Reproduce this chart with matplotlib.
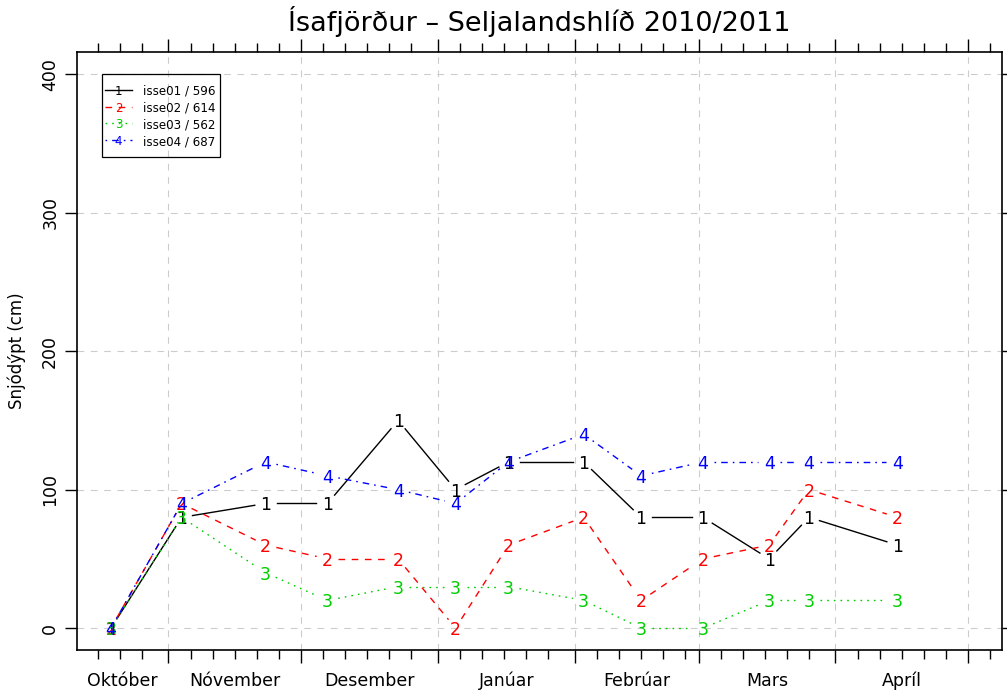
import numpy as np
import matplotlib
matplotlib.use("Agg")
import matplotlib.pyplot as plt
import matplotlib.dates as mdates
import matplotlib.transforms as mtransforms
from matplotlib.lines import Line2D
from matplotlib.patches import Rectangle

# measurement dates (same for all four stakes)
dates = np.array(["2010-10-19", "2010-11-04", "2010-11-23", "2010-12-07",
                  "2010-12-23", "2011-01-05", "2011-01-17", "2011-02-03",
                  "2011-02-16", "2011-03-02", "2011-03-17", "2011-03-26",
                  "2011-04-15"], dtype="datetime64[D]")

isse01 = [0, 80, 90, 90, 150, 100, 120, 120, 80, 80, 50, 80, 60]
isse02 = [0, 90, 60, 50, 50, 0, 60, 80, 20, 50, 60, 100, 80]
isse03 = [0, 80, 40, 20, 30, 30, 30, 20, 0, 0, 20, 20, 20]
isse04 = [0, 90, 120, 110, 100, 90, 120, 140, 110, 120, 120, 120, 120]

labels = ["isse01 / 596", "isse02 / 614", "isse03 / 562", "isse04 / 687"]
colors = ["black", "#FF0000", "#00CD00", "#0000FF"]
dashes = [None, (4.75, 4.75), (1.2, 3.6), (1.2, 3.6, 4.75, 3.6)]

month_names = ["Október", "Nóvember", "Desember", "Janúar", "Febrúar", "Mars", "Apríl"]
month_starts = np.arange("2010-10", "2011-06", dtype="datetime64[M]").astype("datetime64[D]")

W, H = 1007, 694
fig = plt.figure(figsize=(W / 100, H / 100), dpi=100)
ax = fig.add_axes([76.7 / W, 1 - 650.3 / H, 925.6 / W, 598.3 / H])

# lattice style limits: data range extended by 4 %
x0 = mdates.date2num(dates[0])
x1 = mdates.date2num(np.datetime64("2011-05-01"))
xpad = 0.04 * (x1 - x0)
ax.set_xlim(x0 - xpad, x1 + xpad)
ax.set_ylim(-16, 416)

ax.xaxis.set_major_locator(mdates.MonthLocator())
ax.xaxis.set_minor_locator(mdates.DayLocator(bymonthday=[6, 11, 16, 21, 26]))
ax.xaxis.set_major_formatter(matplotlib.ticker.NullFormatter())
ax.set_yticks([0, 100, 200, 300, 400])
ax.tick_params(axis="both", which="both", direction="out", top=True, right=True,
               labeltop=False, labelright=False, width=1.0, color="black")
ax.tick_params(axis="x", which="major", length=9.4)
ax.tick_params(axis="x", which="minor", length=6.3)
ax.tick_params(axis="y", which="major", length=8.6, pad=4, labelsize=12.5)
for lab in ax.get_yticklabels():
    lab.set_rotation(90)
    lab.set_va("center")
for sp in ax.spines.values():
    sp.set_linewidth(1.2)

ax.grid(True, which="major", color="#cccccc", linewidth=0.8, linestyle=(0, (6, 6)))
ax.set_axisbelow(True)

# month labels centred on the visible part of each month
xlo, xhi = ax.get_xlim()
trans = mtransforms.blended_transform_factory(ax.transData, fig.transFigure)
for name, a, b in zip(month_names, month_starts[:-1], month_starts[1:]):
    lo = max(mdates.date2num(a), xlo)
    hi = min(mdates.date2num(b), xhi)
    ax.text((lo + hi) / 2, 1 - 686 / H, name, transform=trans, ha="center",
            va="baseline", fontsize=12.5, clip_on=False)

# lines with gaps around the plotting characters (R type = "b")
gap = 11.0
xs = mdates.date2num(dates)
for i, vals in enumerate([isse01, isse02, isse03, isse04]):
    pts = ax.transData.transform(np.column_stack([xs, vals]))
    inv = ax.transData.inverted()
    for p, q in zip(pts[:-1], pts[1:]):
        d = q - p
        L = np.hypot(*d)
        if L <= 2 * gap:
            continue
        u = d / L
        seg = inv.transform(np.array([p + u * gap, q - u * gap]))
        ln, = ax.plot(seg[:, 0], seg[:, 1], color=colors[i], lw=1.0, zorder=2)
        if dashes[i] is not None:
            ln.set_dashes(dashes[i])
    for xv, yv in zip(xs, vals):
        ax.text(xv, yv, str(i + 1), color=colors[i], ha="center",
                va="center_baseline", fontsize=12.5, zorder=3)

# legend box (upper left)
def fx(px):
    return px / W

def fy(py):
    return 1 - py / H

fig.add_artist(Rectangle((fx(102), fy(157)), fx(220) - fx(102), fy(74) - fy(157),
                         transform=fig.transFigure, fill=False, edgecolor="black", lw=0.9))
for i, lab in enumerate(labels):
    yy = 90 + i * 16.7
    ln = Line2D([fx(105), fx(132)], [fy(yy), fy(yy)], transform=fig.transFigure,
                color=colors[i], lw=1.0)
    if dashes[i] is not None:
        ln.set_dashes(dashes[i])
    fig.add_artist(ln)
    fig.text(fx(118.5), fy(yy), str(i + 1), color=colors[i], ha="center",
             va="center_baseline", fontsize=8.6)
    fig.text(fx(143), fy(yy), lab, ha="left", va="center_baseline", fontsize=8.6)

fig.text((76.7 + 1002.3) / 2 / W, fy(31), "Ísafjörður – Seljalandshlíð 2010/2011",
         ha="center", va="baseline", fontsize=19.5)
fig.text(fx(17), fy(351), "Snjódýpt (cm)", rotation=90, ha="center", va="center",
         fontsize=12)

fig.savefig("out.png", dpi=100)
